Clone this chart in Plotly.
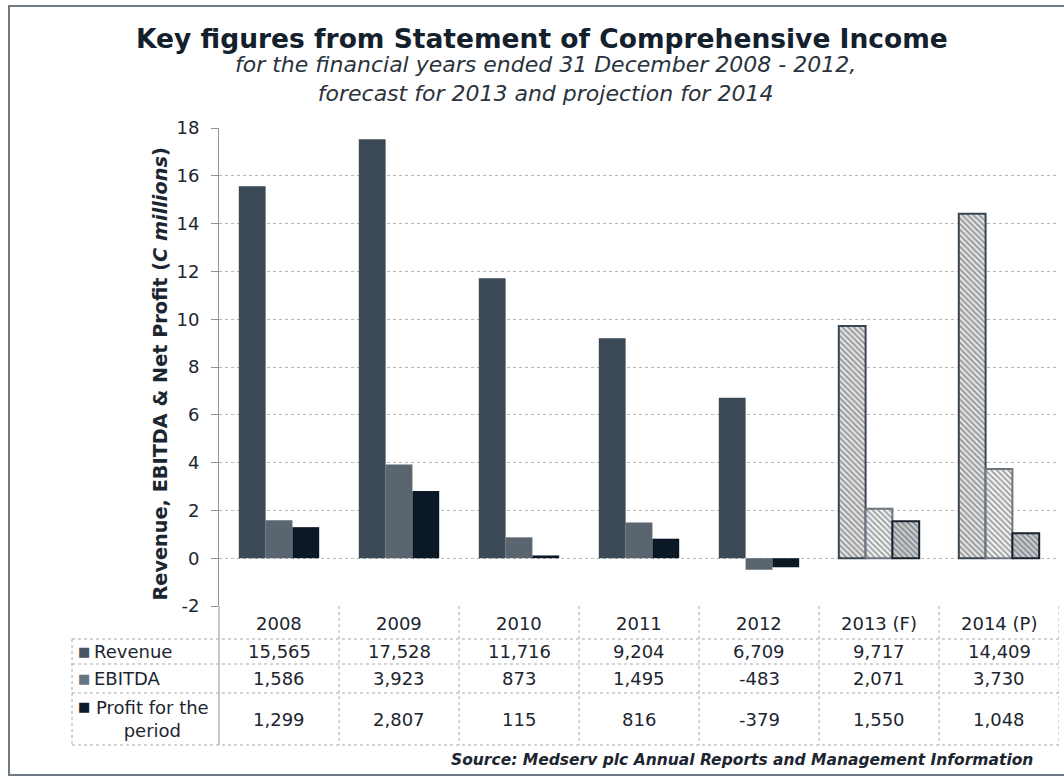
import plotly.graph_objects as go

# data (EUR thousands, as printed in the table)
years = ["2008", "2009", "2010", "2011", "2012", "2013 (F)", "2014 (P)"]
revenue = [15565, 17528, 11716, 9204, 6709, 9717, 14409]
ebitda = [1586, 3923, 873, 1495, -483, 2071, 3730]
profit = [1299, 2807, 115, 816, -379, 1550, 1048]
is_estimate = [False, False, False, False, False, True, True]

row_labels = ["Revenue", "EBITDA", "Profit for the<br>period"]
y_ticks = [-2, 0, 2, 4, 6, 8, 10, 12, 14, 16, 18]
y_tick_text = ["-2", "0", "2", "4", "6", "8", "10", "12", "14", "16", "18"]

W, H = 1064, 778
PLOT_L, PLOT_R, PLOT_T, PLOT_B = 219, 1059, 128, 606


def px(x):
    return (x - PLOT_L) / (PLOT_R - PLOT_L)


def py(y):
    return (PLOT_B - y) / (PLOT_B - PLOT_T)


FONT = "DejaVu Sans"
TXT = "#1c2630"

series = [
    # name, values, solid colour, hatch bg, hatch fg, hatch outline, key colour
    ("Revenue", revenue, "#3b4856", "#e2e4e6", "#4a545e", "#3a4652", "#4a5560"),
    ("EBITDA", ebitda, "#5b6570", "#f2f3f4", "#a0a6ac", "#6c7680", "#6b7580"),
    ("Profit for the period", profit, "#0b1826", "#c9cdd1", "#1f2a36", "#18222d", "#0d1a28"),
]

fig = go.Figure()
for name, vals, solid, hbg, hfg, hline, key in series:
    fig.add_trace(go.Bar(
        x=years,
        y=[v / 1000 for v in vals],
        name=name,
        marker=dict(
            color=[hbg if e else solid for e in is_estimate],
            line=dict(color=[hline if e else solid for e in is_estimate],
                      width=[2 if e else 0 for e in is_estimate]),
            pattern=dict(
                shape=["\\" if e else "" for e in is_estimate],
                fgcolor=[hfg if e else solid for e in is_estimate],
                bgcolor=[hbg if e else solid for e in is_estimate],
                size=4,
                solidity=0.45,
            ),
        ),
        showlegend=False,
    ))

shapes = []
grid = dict(type="line", line=dict(color="#a4aab0", width=1, dash="dot"), layer="below")

# outer frame
shapes.append(dict(type="rect", xref="paper", yref="paper",
                   x0=px(9), x1=px(1068), y0=py(6), y1=py(775),
                   line=dict(color="#6f7a85", width=2)))

# table: horizontal rules
for yy in [639, 664, 693, 745]:
    shapes.append(dict(grid, xref="paper", yref="paper",
                       x0=px(72), x1=px(PLOT_R), y0=py(yy), y1=py(yy)))
# table: vertical rules on the category boundaries
for i in range(1, len(years) + 1):
    shapes.append(dict(grid, xref="x", yref="paper",
                       x0=i - 0.5, x1=i - 0.5, y0=py(PLOT_B), y1=py(745)))
shapes.append(dict(grid, xref="paper", yref="paper",
                   x0=px(72), x1=px(72), y0=py(639), y1=py(745)))
# y axis line carried down through the table
shapes.append(dict(type="line", xref="paper", yref="paper", x0=0, x1=0,
                   y0=py(PLOT_B), y1=py(745), line=dict(color="#8c949c", width=1)))

annotations = []
row_y = [651, 678, 719]
cell_font = dict(size=18, color=TXT)
for i, yr in enumerate(years):
    annotations.append(dict(x=i, xref="x", y=py(623), yref="paper", yanchor="middle",
                            text=yr, showarrow=False, font=cell_font))
    for (name, vals, *_), ry in zip(series, row_y):
        annotations.append(dict(x=i, xref="x", y=py(ry), yref="paper", yanchor="middle",
                                text=f"{vals[i]:,}", showarrow=False, font=cell_font))

for (name, vals, solid, hbg, hfg, hline, key), lab, ry in zip(series, row_labels, row_y):
    two_lines = "<br>" in lab
    annotations.append(dict(x=px(84), xref="paper", y=py(ry - 13 if two_lines else ry),
                            yref="paper", xanchor="center", yanchor="middle",
                            showarrow=False, text="■", font=dict(size=13, color=key)))
    annotations.append(dict(x=px(152) if two_lines else px(92), xref="paper",
                            y=py(ry), yref="paper",
                            xanchor="center" if two_lines else "left",
                            yanchor="middle", showarrow=False, align="center",
                            text=lab, font=cell_font))

# titles
annotations.append(dict(x=px(542), xref="paper", xanchor="center", y=py(38), yref="paper",
                        yanchor="middle", showarrow=False,
                        text="<b>Key figures from Statement of Comprehensive Income</b>",
                        font=dict(size=26.5, color="#14202c", family=FONT)))
annotations.append(dict(x=px(545), xref="paper", y=py(79), yref="paper", yanchor="middle",
                        showarrow=False,
                        text="<i>for the financial years ended 31 December 2008 - 2012,<br>"
                             "forecast for 2013 and projection for 2014</i>",
                        font=dict(size=22, color="#2a333c", family=FONT)))
annotations.append(dict(x=px(146), xref="paper", y=py(374), yref="paper", yanchor="middle",
                        showarrow=False, textangle=-90,
                        text="<b>Revenue, EBITDA & Net Profit (<i>C millions</i>)</b>",
                        font=dict(size=19.3, color=TXT, family=FONT)))
annotations.append(dict(x=px(1035), xref="paper", xanchor="right", y=py(760), yref="paper",
                        yanchor="middle", showarrow=False,
                        text="<b><i>Source: Medserv plc Annual Reports and Management Information</i></b>",
                        font=dict(size=15.5, color=TXT, family=FONT)))

fig.update_layout(
    width=W, height=H,
    margin=dict(l=PLOT_L, r=W - PLOT_R, t=PLOT_T, b=H - PLOT_B),
    paper_bgcolor="white", plot_bgcolor="white",
    font=dict(family=FONT, color=TXT),
    barmode="group", bargap=0.33, bargroupgap=0,
    shapes=shapes, annotations=annotations,
    xaxis=dict(type="category", showticklabels=False, showgrid=False, ticks="",
               zeroline=False, range=[-0.5, len(years) - 0.5]),
    yaxis=dict(range=[-2, 18], tickvals=y_ticks, ticktext=y_tick_text,
               showgrid=True, gridcolor="#b4b8bc",
               griddash="dot", zeroline=False, showline=True, linecolor="#8c949c",
               ticks="outside", ticklen=7, tickcolor="#8c949c",
               ticklabelstandoff=8, tickfont=dict(size=18, color=TXT)),
)

fig.write_html("out.html", config={"displayModeBar": False},
               post_script="document.body.style.margin='0';")
